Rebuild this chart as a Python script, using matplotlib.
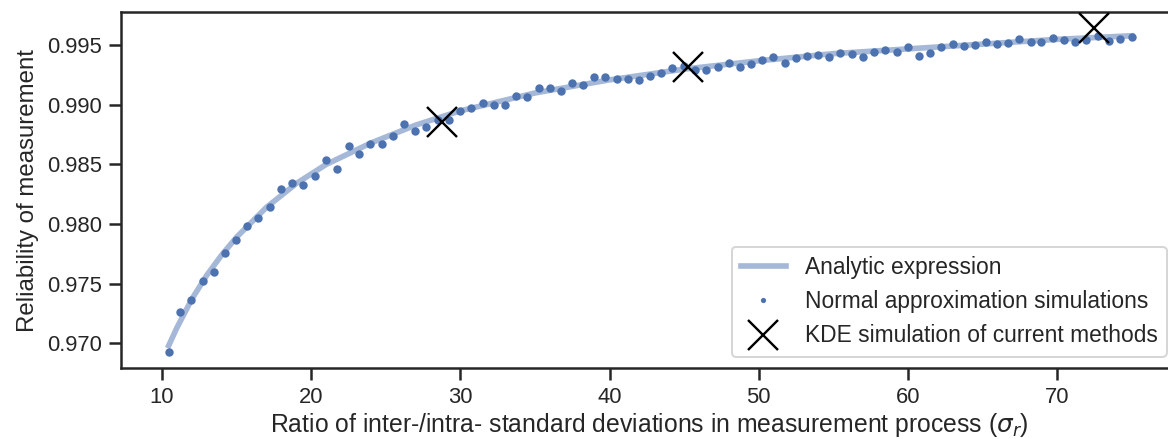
import matplotlib.pyplot as plt
from matplotlib.lines import Line2D

# analytic curve
line_x = [10.45, 11, 12, 13, 14, 15, 17, 19, 21, 24, 27, 30, 35, 40, 45, 50, 55, 60, 65, 70, 75]
line_y = [0.9698, 0.9713, 0.9737, 0.9757, 0.9774, 0.9789, 0.9814, 0.9834, 0.9850, 0.9868,
          0.9883, 0.9895, 0.9910, 0.9921, 0.9930, 0.9937, 0.9943, 0.9947, 0.9951, 0.9955, 0.9958]

# normal approximation simulations
sim_x = [10.49, 11.23, 11.96, 12.72, 13.48, 14.22, 14.96, 15.72, 16.45, 17.24,
         17.98, 18.73, 19.45, 20.23, 20.99, 21.73, 22.51, 23.24, 23.96, 24.75,
         25.48, 26.24, 26.98, 27.73, 28.47, 29.24, 30.00, 30.73, 31.49, 32.23,
         32.96, 33.73, 34.48, 35.24, 35.98, 36.72, 37.48, 38.22, 38.98, 39.72,
         40.50, 41.25, 41.99, 42.73, 43.47, 44.22, 44.96, 45.74, 46.48, 47.24,
         48.00, 48.74, 49.50, 50.23, 50.99, 51.76, 52.49, 53.23, 53.99, 54.70,
         55.46, 56.22, 56.98, 57.72, 58.48, 59.24, 60.00, 60.74, 61.47, 62.23,
         62.99, 63.75, 64.49, 65.23, 65.96, 66.72, 67.48, 68.22, 68.95, 69.72,
         70.48, 71.23, 71.97, 72.71, 73.47, 74.23, 74.99]
sim_y = [0.96928, 0.97261, 0.97365, 0.97522, 0.97598, 0.97758, 0.97867, 0.97982, 0.98050, 0.98140,
         0.98291, 0.98342, 0.98325, 0.98401, 0.98535, 0.98460, 0.98656, 0.98586, 0.98670, 0.98670,
         0.98737, 0.98838, 0.98780, 0.98818, 0.98875, 0.98875, 0.98950, 0.98973, 0.99020, 0.98995,
         0.98995, 0.99077, 0.99062, 0.99144, 0.99144, 0.99113, 0.99180, 0.99170, 0.99232, 0.99232,
         0.99217, 0.99217, 0.99211, 0.99239, 0.99268, 0.99310, 0.99323, 0.99290, 0.99296, 0.99315,
         0.99352, 0.99318, 0.99346, 0.99374, 0.99399, 0.99349, 0.99394, 0.99413, 0.99419, 0.99402,
         0.99433, 0.99430, 0.99406, 0.99442, 0.99458, 0.99447, 0.99489, 0.99411, 0.99436, 0.99489,
         0.99512, 0.99495, 0.99503, 0.99531, 0.99514, 0.99520, 0.99554, 0.99531, 0.99529, 0.99562,
         0.99545, 0.99529, 0.99545, 0.99582, 0.99534, 0.99556, 0.99567]

# KDE simulations
kde_x = [28.77, 45.23, 72.49]
kde_y = [0.98860, 0.99318, 0.99641]

plt.rcParams['font.family'] = ['Liberation Sans', 'DejaVu Sans']
plt.rcParams['mathtext.fontset'] = 'dejavusans'
dark = '#262626'
blue = '#4C72B0'

fig = plt.figure(figsize=(1168 / 144, 439 / 144), dpi=144)
ax = fig.add_axes([0.1033, 0.1617, 0.9052, 0.8103])

ax.plot(line_x, line_y, color=blue, alpha=0.5, lw=2.8, zorder=1)
ax.plot(sim_x, sim_y, 'o', color=blue, ms=4.2, mew=0, zorder=2)
ax.plot(kde_x, kde_y, 'x', color='black', ms=15, mew=1.2, zorder=3)

ax.set_xlim(7.23, 78.1)
ax.set_ylim(0.96792, 0.99777)
ax.set_xticks([10, 20, 30, 40, 50, 60, 70])
ax.set_yticks([0.970, 0.975, 0.980, 0.985, 0.990, 0.995])
ax.yaxis.set_major_formatter(plt.FormatStrFormatter('%.3f'))
ax.tick_params(labelsize=11, colors=dark, length=6, width=1.25)
for s in ax.spines.values():
    s.set_color(dark)
    s.set_linewidth(1.25)

ax.set_xlabel('Ratio of inter-/intra- standard deviations in measurement process ($\\sigma_r$)',
              fontsize=12.4, color=dark, labelpad=1.5)
ax.set_ylabel('Reliability of measurement', fontsize=12, color=dark)

handles = [
    Line2D([], [], color=blue, alpha=0.5, lw=2.8),
    Line2D([], [], ls='none', marker='o', color=blue, ms=2.6, mew=0),
    Line2D([], [], ls='none', marker='x', color='black', ms=15, mew=1.2),
]
labels = ['Analytic expression', 'Normal approximation simulations',
          'KDE simulation of current methods']
leg = ax.legend(handles, labels, loc='lower right', fontsize=11.4, labelcolor=dark,
                edgecolor='0.8', framealpha=0.8)

fig.savefig('out.png', dpi=144)
